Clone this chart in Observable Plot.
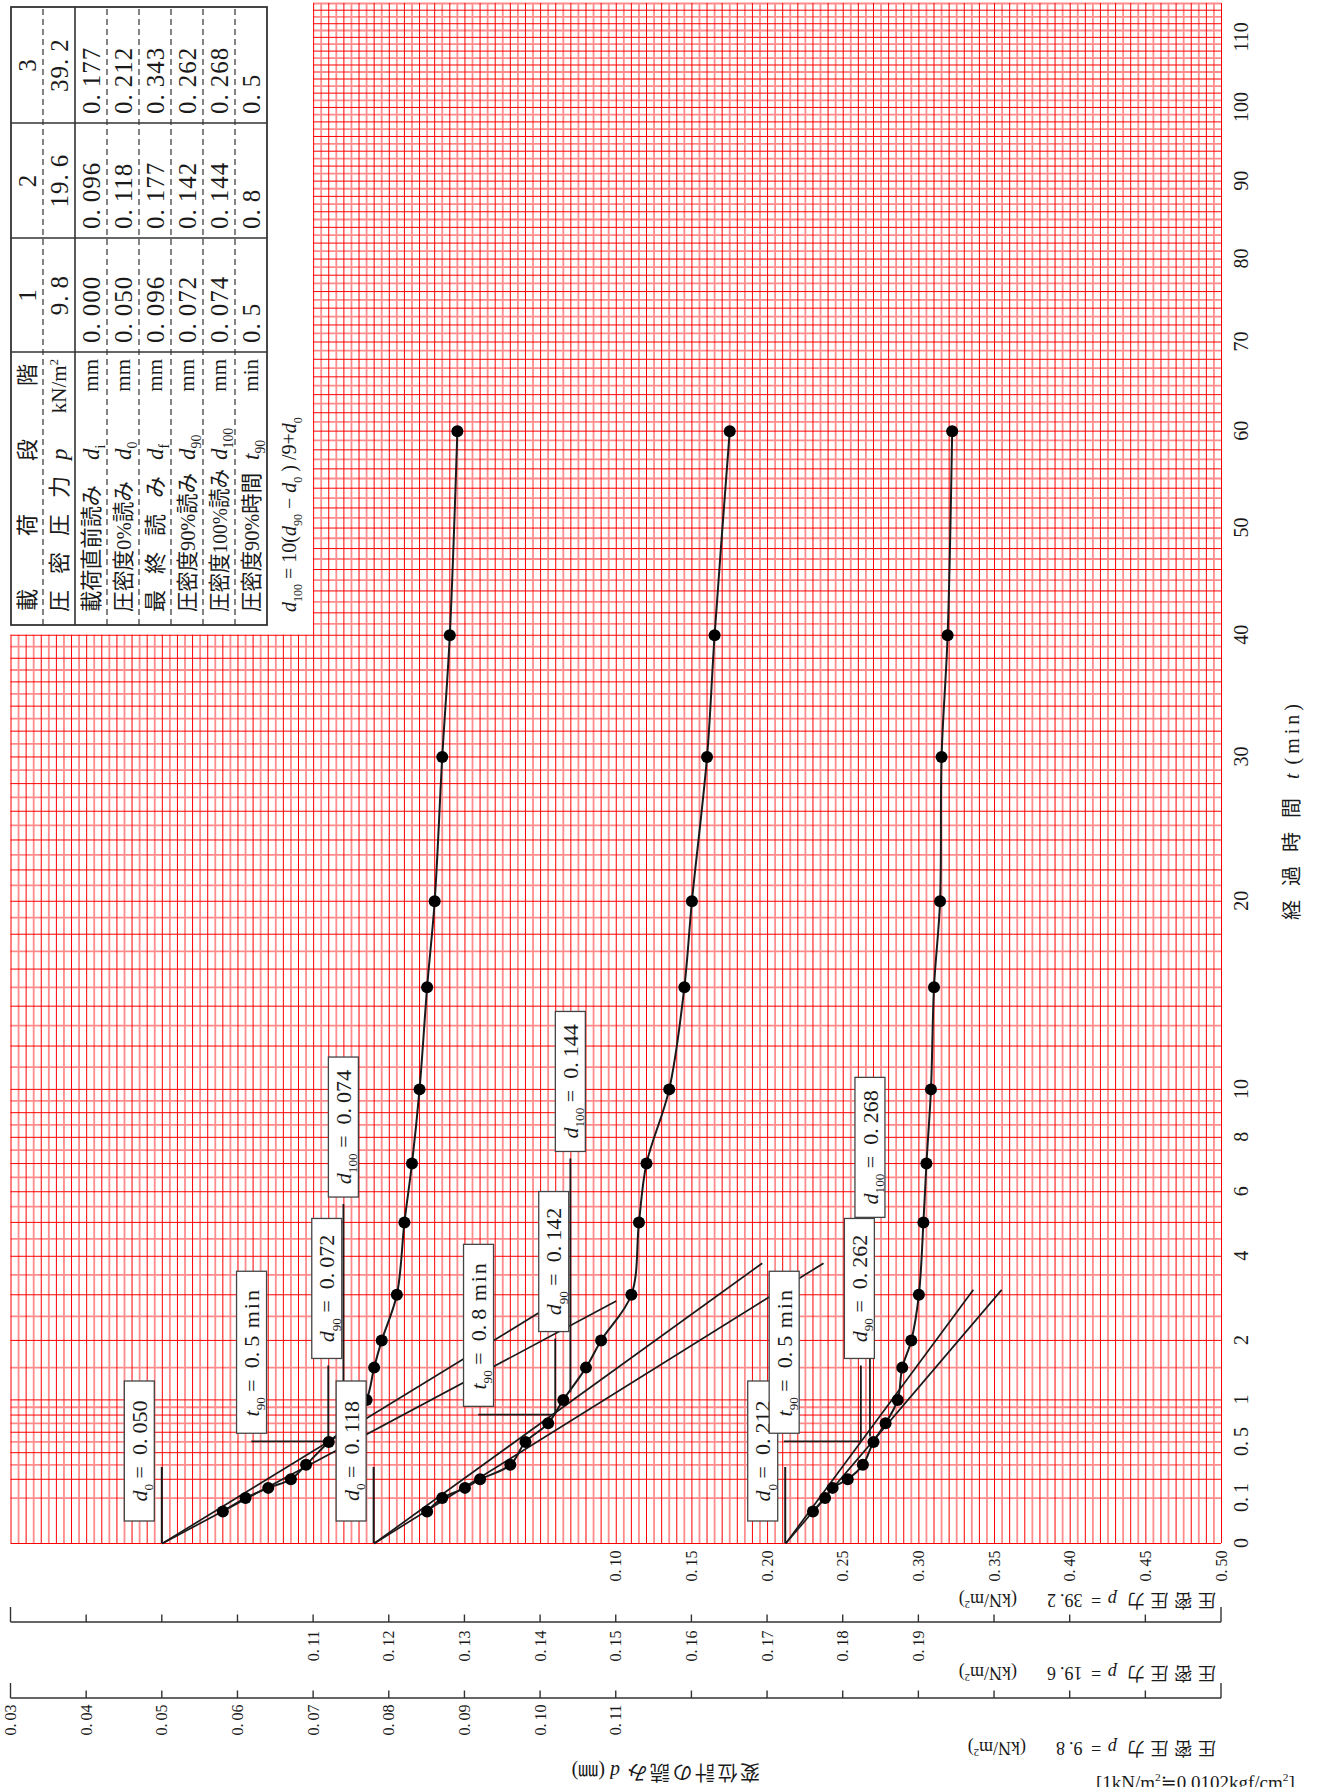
<!DOCTYPE html>
<html>
<head>
<meta charset="utf-8">
<script src="https://cdn.jsdelivr.net/npm/d3@7"></script>
<script src="https://cdn.jsdelivr.net/npm/@observablehq/plot@0.6"></script>
<style>
html, body { margin: 0; padding: 0; background: #fff; overflow: hidden; }
#chart { position: relative; width: 1319px; height: 1787px; }
</style>
</head>
<body>
<div id="chart"></div>
<script>
// ================= DATA =================
// elapsed time of each reading (min)
const times = [0.05, 0.1, 0.15, 0.2, 0.3, 0.5, 0.7, 1, 1.5, 2, 3, 5, 7, 10, 15, 20, 30, 40, 60];
// dial gauge readings d (mm) for each load stage
const dispStage1 = [0.058, 0.061, 0.064, 0.067, 0.069, 0.072, 0.075, 0.077, 0.078, 0.079, 0.081, 0.082, 0.083, 0.084, 0.085, 0.086, 0.087, 0.088, 0.089];
const dispStage2 = [0.125, 0.127, 0.130, 0.132, 0.136, 0.138, 0.141, 0.143, 0.146, 0.148, 0.152, 0.153, 0.154, 0.157, 0.159, 0.160, 0.162, 0.163, 0.165];
const dispStage3 = [0.230, 0.238, 0.243, 0.253, 0.263, 0.270, 0.278, 0.286, 0.289, 0.295, 0.300, 0.303, 0.305, 0.308, 0.310, 0.314, 0.315, 0.319, 0.322];

// table values
const stageNumbers = ["1", "2", "3"];
const pressures = ["9.8", "19.6", "39.2"];
const dInitial = ["0.000", "0.096", "0.177"];
const d0Labels = ["0.050", "0.118", "0.212"];
const dFinal = ["0.096", "0.177", "0.343"];
const d90Labels = ["0.072", "0.142", "0.262"];
const d100Labels = ["0.074", "0.144", "0.268"];
const t90Labels = ["0.5", "0.8", "0.5"];
const d0Values = [0.050, 0.118, 0.212];
const d90Values = [0.072, 0.142, 0.262];
const d100Values = [0.074, 0.144, 0.268];
const t90Values = [0.5, 0.8, 0.5];

// construction lines of the square-root-of-time method (end points)
const tangentEndT = [2.85, 3.81, 3.12];
const tangentEndInitial = [0.110, 0.1774, 0.3547];
const tangentEnd115 = [0.1023, 0.1693, 0.336];

// tick labels
const timeTicks = [0, 0.1, 0.5, 1, 2, 4, 6, 8, 10, 20, 30, 40, 50, 60, 70, 80, 90, 100, 110];
const timeTickLabels = ["0", "0.1", "0.5", "1", "2", "4", "6", "8", "10", "20", "30", "40", "50", "60", "70", "80", "90", "100", "110"];
const axis39Values = [0.10, 0.15, 0.20, 0.25, 0.30, 0.35, 0.40, 0.45, 0.50];
const axis39Labels = ["0.10", "0.15", "0.20", "0.25", "0.30", "0.35", "0.40", "0.45", "0.50"];
const axis19Ticks = [0.07, 0.08, 0.09, 0.10, 0.11, 0.12, 0.13, 0.14, 0.15, 0.16, 0.17, 0.18, 0.19, 0.20, 0.21, 0.22, 0.23];
const axis19Values = [0.11, 0.12, 0.13, 0.14, 0.15, 0.16, 0.17, 0.18, 0.19];
const axis19Labels = ["0.11", "0.12", "0.13", "0.14", "0.15", "0.16", "0.17", "0.18", "0.19"];
const axis98Ticks = [0.03, 0.04, 0.05, 0.06, 0.07, 0.08, 0.09, 0.10, 0.11, 0.12, 0.13, 0.14, 0.15, 0.16, 0.17, 0.18, 0.19];
const axis98Values = [0.03, 0.04, 0.05, 0.06, 0.07, 0.08, 0.09, 0.10, 0.11];
const axis98Labels = ["0.03", "0.04", "0.05", "0.06", "0.07", "0.08", "0.09", "0.10", "0.11"];

// each stage is read on its own displacement scale across the same sheet width
const stageDomains = [[0.03, 0.19], [0.07, 0.23], [-0.30, 0.50]];

// ================= LAYOUT =================
const W = 1319, H = 1787;
const frame = {left: 10.5, right: 1221, top: 3, bottom: 1543};
const serif = "'Liberation Serif', 'DejaVu Serif', 'Noto Sans CJK JP', serif";
const ink = "#1a1a1a";
const tMax = 115;
const tableBlockEdge = 0.07, tableBlockT = 40;
const d0MarkT = 0.28;
const d100LineFromT = [0.63, 1.1, 0.55];
const d100LabelT = [8.39, 10.33, 7.59];

const baseDomain = stageDomains[0];
function toBase(stage, d) {
  const [lo, hi] = stageDomains[stage];
  return baseDomain[0] + (d - lo) / (hi - lo) * (baseDomain[1] - baseDomain[0]);
}

const stageReadings = [dispStage1, dispStage2, dispStage3];
const points = stageReadings.flatMap((arr, s) => arr.map((d, i) => ({stage: s, t: times[i], d, x: toBase(s, d)})));
const tangentRows = [0, 1, 2].flatMap(s => [
  {x1: toBase(s, d0Values[s]), y1: 0, x2: toBase(s, tangentEndInitial[s]), y2: tangentEndT[s]},
  {x1: toBase(s, d0Values[s]), y1: 0, x2: toBase(s, tangentEnd115[s]), y2: tangentEndT[s]}
]);

// grid of the sheet
const gridX = d3.range(0, 161).map(i => +(0.03 + i * 0.001).toFixed(3));
const gridT = [0, ...d3.range(1, 11).map(i => i / 10), ...d3.range(3, 21).map(i => i / 2), ...d3.range(11, 116)];
const gridXA = gridX.filter((_, i) => i % 2 === 0), gridXB = gridX.filter((_, i) => i % 2 === 1);
const gridTA = gridT.filter((_, i) => i % 2 === 0), gridTB = gridT.filter((_, i) => i % 2 === 1);
const vOpts = {x: d => d, y1: 0, y2: d => (d < tableBlockEdge - 1e-9 ? tableBlockT : tMax)};
const hOpts = {y: d => d, x1: d => (d > tableBlockT ? tableBlockEdge : baseDomain[0]), x2: baseDomain[1]};

// ================= TEXT HELPERS =================
function num(str, gap = 4) {
  const k = str.indexOf(".");
  if (k < 0) return [{text: str}];
  return [{text: str.slice(0, k + 1)}, {text: str.slice(k + 1), dx: gap}];
}
function addText(parent, {x, y, rotate = 0, anchor = "start", size = 20, parts, family = serif, ls = null, fill = ink, length = null}) {
  const t = parent.append("text")
    .attr("transform", `translate(${x},${y}) rotate(${rotate})`)
    .attr("y", size * 0.35)
    .attr("text-anchor", anchor)
    .attr("font-family", family)
    .attr("font-size", size)
    .attr("fill", fill);
  if (ls != null) t.attr("letter-spacing", ls);
  if (length != null) t.attr("textLength", length).attr("lengthAdjust", "spacingAndGlyphs");
  let level = 0;
  for (const p of parts) {
    const o = typeof p === "string" ? {text: p} : p;
    const lv = o.sub ? 0.28 : o.sup ? -0.4 : 0;
    const span = t.append("tspan").text(o.text);
    let dy = (lv - level) * size;
    if (dy) span.attr("dy", dy);
    level = lv;
    if (o.sub || o.sup) span.attr("font-size", size * 0.6);
    if (o.italic) span.attr("font-style", "italic");
    if (o.dx) span.attr("dx", o.dx);
    if (o.ls != null) span.attr("letter-spacing", o.ls);
    if (o.family) span.attr("font-family", o.family);
  }
  return t;
}
function seg(g, x1, y1, x2, y2, w = 1.6, color = ink) {
  g.append("line").attr("x1", x1).attr("y1", y1).attr("x2", x2).attr("y2", y2)
    .attr("stroke", color).attr("stroke-width", w);
}
function box(g, cx, cy, h, parts, size = 22) {
  g.append("rect").attr("x", cx - 15).attr("y", cy - h / 2).attr("width", 30).attr("height", h)
    .attr("fill", "#fff").attr("stroke", "#444").attr("stroke-width", 1.3);
  addText(g, {x: cx, y: cy, rotate: -90, anchor: "middle", size, parts});
}
const sym = (letter, sub) => [{text: letter, italic: true}, {text: sub, sub: true}];

// ================= CUSTOM MARKS =================
function leaders(index, scales) {
  const X = scales.x, Y = scales.y;
  const g = d3.create("svg:g");
  for (let s = 0; s < 3; s++) {
    const x0 = X(toBase(s, d0Values[s])), y0 = Y(0);
    const x90 = X(toBase(s, d90Values[s])), y90 = Y(t90Values[s]);
    const x100 = X(toBase(s, d100Values[s]));
    seg(g, x0, y0, x0, Y(d0MarkT), 2);
    seg(g, x90 - 77, y90, x90, y90, 1.8);
    seg(g, x90, y90, x90, y90 - 76, 1.8);
    seg(g, x100, Y(d100LineFromT[s]), x100, Y(d100LabelT[s]) + 77, 1.8);
  }
  return g.node();
}

function boxes(index, scales) {
  const X = scales.x, Y = scales.y;
  const g = d3.create("svg:g");
  for (let s = 0; s < 3; s++) {
    const x0 = X(toBase(s, d0Values[s])), y0 = Y(0);
    const x90 = X(toBase(s, d90Values[s])), y90 = Y(t90Values[s]);
    const x100 = X(toBase(s, d100Values[s]));
    box(g, x0 - 22.5, y0 - 92, 140, [...sym("d", "0"), {text: " =  "}, ...num(d0Labels[s], 5)]);
    box(g, x90 - 76.7, y90 - 89.2, 162, [...sym("t", "90"), {text: " =  "}, ...num(t90Labels[s], 5), {text: " min", ls: 2}]);
    box(g, x90 - 1.5, y90 - 153, 140, [...sym("d", "90"), {text: " =  "}, ...num(d90Labels[s], 5)]);
    box(g, x100, Y(d100LabelT[s]), 140, [...sym("d", "100"), {text: " =  "}, ...num(d100Labels[s], 5)]);
  }
  return g.node();
}

function drawTable(g) {
  const T = g.append("g").attr("transform", "translate(11,625) rotate(-90)");
  const Wt = 618, rowH = 32, Ht = rowH * 8;
  const colEdges = [0, 273, 387, 502, 618];
  T.append("rect").attr("width", Wt).attr("height", Ht).attr("fill", "#fff");
  for (let r = 1; r < 8; r++) {
    const l = T.append("line").attr("x1", 0).attr("x2", Wt).attr("y1", r * rowH).attr("y2", r * rowH)
      .attr("stroke", "#333").attr("stroke-width", r === 2 ? 1.6 : 1.2);
    if (r !== 2) l.attr("stroke-dasharray", "6 4");
  }
  for (const u of colEdges.slice(1, -1)) {
    T.append("line").attr("x1", u).attr("x2", u).attr("y1", 0).attr("y2", Ht).attr("stroke", "#333").attr("stroke-width", 1.6);
  }
  T.append("rect").attr("width", Wt).attr("height", Ht).attr("fill", "none").attr("stroke", "#333").attr("stroke-width", 1.8);

  const cy = r => rowH * r + rowH / 2;
  const labSize = 22, valSize = 25;
  // row 0 : 載荷段階 spread across the label column
  ["載", "荷", "段", "階"].forEach((c, k) => addText(T, {x: 25 + k * 75, y: cy(0), anchor: "middle", size: labSize, parts: [c]}));
  const rows = [
    {label: "圧密圧力", ls: 16, sym: [{text: "p", italic: true}], unit: [{text: "kN/m"}, {text: "2", sup: true}]},
    {label: "載荷直前読み", length: 127, sym: sym("d", "i"), unit: ["mm"]},
    {label: "圧密度0%読み", length: 131, sym: sym("d", "0"), unit: ["mm"]},
    {label: "最終読み", ls: 16, sym: sym("d", "f"), unit: ["mm"]},
    {label: "圧密度90%読み", length: 139, sym: sym("d", "90"), unit: ["mm"]},
    {label: "圧密度100%読み", length: 143, sym: sym("d", "100"), unit: ["mm"]},
    {label: "圧密度90%時間", length: 139, sym: sym("t", "90"), unit: ["min"]}
  ];
  rows.forEach((row, k) => {
    const r = k + 1;
    addText(T, {x: 13, y: cy(r), size: labSize, ls: row.ls ?? null, length: row.length ?? null, parts: [row.label]});
    addText(T, {x: 165, y: cy(r), size: labSize + 1, parts: row.sym});
    addText(T, {x: 266, y: cy(r), anchor: "end", size: labSize - 1, parts: row.unit});
  });
  const valueRows = [stageNumbers, pressures, dInitial, d0Labels, dFinal, d90Labels, d100Labels, t90Labels];
  valueRows.forEach((vals, r) => {
    vals.forEach((v, c) => {
      const lo = colEdges[c + 1], hi = colEdges[c + 2];
      if (r < 2) addText(T, {x: (lo + hi) / 2, y: cy(r), anchor: "middle", size: valSize, ls: 1, parts: num(v, 6)});
      else addText(T, {x: lo + 9, y: cy(r), anchor: "start", size: valSize, ls: 1, parts: num(v, 6)});
    });
  });
  // formula
  addText(g, {x: 289, y: 612, rotate: -90, anchor: "start", size: 20, parts: [
    ...sym("d", "100"), {text: " = 10("}, ...sym("d", "90"), {text: " − "}, ...sym("d", "0"),
    {text: " ) /9+"}, ...sym("d", "0")
  ]});
}

function labels(index, scales) {
  const X = scales.x, Y = scales.y;
  const g = d3.create("svg:g");
  drawTable(g);
  // upside-down pressure captions (drawn first so the tick labels stay on top)
  [[pressures[2], 1600], [pressures[1], 1673], [pressures[0], 1748]].forEach(([p, y]) => {
    addText(g, {x: 1216, y, rotate: 180, anchor: "start", size: 18, parts: [
      {text: "圧密圧力", ls: 5.7}, {text: " "}, {text: "p", italic: true}, {text: " = ", ls: 2},
      {text: "", dx: 8}, ...num(p, 4), {text: "(kN/m", dx: 30}, {text: "2", sup: true}, {text: ")"}
    ]});
  });
  addText(g, {x: 760, y: 1772, rotate: 180, anchor: "start", size: 20, parts: [
    {text: "変位計の読み", ls: 2.5}, {text: " "}, {text: "d", italic: true}, {text: " (㎜)"}
  ]});
  addText(g, {x: 1096, y: 1782, anchor: "start", size: 19, parts: [
    {text: "[1kN/m"}, {text: "2", sup: true}, {text: "≒0.0102kgf/cm"}, {text: "2", sup: true}, {text: "]"}
  ]});
  // time axis
  timeTicks.forEach((t, i) => addText(g, {x: frame.right + 20, y: Y(t), rotate: -90, anchor: "middle", size: 20, parts: num(timeTickLabels[i], 4)}));
  addText(g, {x: frame.right + 71, y: 810, rotate: -90, anchor: "middle", size: 20, parts: [
    {text: "経過時間", ls: 14}, {text: " "}, {text: "t", italic: true}, {text: " (min)", ls: 4}
  ]});
  // displacement scale for p = 39.2
  axis39Values.forEach((v, i) => addText(g, {x: X(toBase(2, v)), y: 1566, rotate: -90, anchor: "middle", size: 16, parts: num(axis39Labels[i], 3)}));
  // displacement scale for p = 19.6
  const yA = 1622, yB = 1698;
  seg(g, X(baseDomain[0]), yA, X(baseDomain[1]), yA, 1.4, "#333");
  axis19Ticks.forEach((v, i) => {
    const x = X(toBase(1, v));
    const end = i === 0 || i === axis19Ticks.length - 1;
    seg(g, x, yA, x, yA - (end ? 15 : 7.5), 1.4, "#333");
  });
  axis19Values.forEach((v, i) => addText(g, {x: X(toBase(1, v)), y: 1646, rotate: -90, anchor: "middle", size: 16, parts: num(axis19Labels[i], 3)}));
  // displacement scale for p = 9.8
  seg(g, X(baseDomain[0]), yB, X(baseDomain[1]), yB, 1.4, "#333");
  axis98Ticks.forEach((v, i) => {
    const x = X(toBase(0, v));
    const end = i === 0 || i === axis98Ticks.length - 1;
    seg(g, x, yB, x, yB - (end ? 15 : 7.5), 1.4, "#333");
  });
  axis98Values.forEach((v, i) => addText(g, {x: X(toBase(0, v)), y: 1720, rotate: -90, anchor: "middle", size: 16, parts: num(axis98Labels[i], 3)}));
  return g.node();
}

// ================= PLOT =================
const chart = Plot.plot({
  width: W,
  height: H,
  marginLeft: frame.left,
  marginRight: W - frame.right,
  marginTop: frame.top,
  marginBottom: H - frame.bottom,
  style: {background: "#fff", fontFamily: serif, overflow: "visible"},
  x: {domain: baseDomain, range: [frame.left, frame.right], axis: null},
  y: {type: "sqrt", domain: [0, tMax], range: [frame.bottom, frame.top], axis: null},
  marks: [
    Plot.ruleX(gridXB, {...vOpts, stroke: "#ff8c8c", strokeWidth: 1.8}),
    Plot.ruleY(gridTB, {...hOpts, stroke: "#ff8c8c", strokeWidth: 1.8}),
    Plot.ruleX(gridXA, {...vOpts, stroke: "#ff0000", strokeWidth: 1}),
    Plot.ruleY(gridTA, {...hOpts, stroke: "#ff0000", strokeWidth: 1}),
    Plot.link(tangentRows, {x1: "x1", y1: "y1", x2: "x2", y2: "y2", stroke: ink, strokeWidth: 1.7}),
    leaders,
    Plot.line(points, {x: "x", y: "t", z: "stage", curve: "catmull-rom", stroke: ink, strokeWidth: 2}),
    Plot.dot(points, {x: "x", y: "t", r: 6, fill: "#000", stroke: "none"}),
    boxes,
    labels
  ]
});
document.getElementById("chart").append(chart);
</script>
</body>
</html>
